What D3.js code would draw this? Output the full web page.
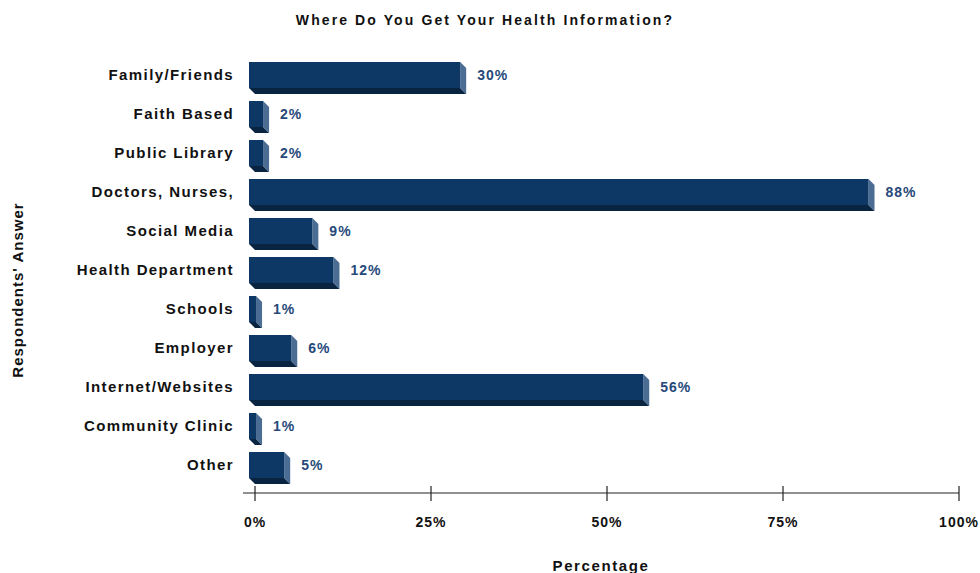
<!DOCTYPE html>
<html>
<head>
<meta charset="utf-8">
<script src="https://cdn.jsdelivr.net/npm/d3@7/dist/d3.min.js"></script>
<style>
  html, body { margin: 0; padding: 0; background: #fff; }
  svg { display: block; }
  text { font-family: "Liberation Sans", Arial, sans-serif; font-weight: bold; }
</style>
</head>
<body>
<svg id="chart" width="980" height="573"></svg>
<script>
// Survey answers and share of respondents (%)
const categories = [
  "Family/Friends", "Faith Based", "Public Library", "Doctors, Nurses,",
  "Social Media", "Health Department", "Schools", "Employer",
  "Internet/Websites", "Community Clinic", "Other"
];
const percentages = [30, 2, 2, 88, 9, 12, 1, 6, 56, 1, 5];
const tickValues = [0, 25, 50, 75, 100];
const tickLabels = ["0%", "25%", "50%", "75%", "100%"];

const svg = d3.select("#chart");
const depth = 6;

const x = d3.scaleLinear().domain([0, 100]).range([255, 959]);
const y = d3.scaleBand().domain(categories).range([55.5, 484.5]).padding(0);
const faceH = 26;

const colFront = "#0d3865";
const colSide = "#4b6d93";
const colBottom = "#082440";

// Title
svg.append("text")
  .attr("x", 485).attr("y", 25)
  .attr("text-anchor", "middle")
  .attr("font-size", 14)
  .attr("letter-spacing", 2.1)
  .attr("fill", "#111")
  .text("Where Do You Get Your Health Information?");

// Bars: front face shifted up-left, side and bottom faces reach the value
const bars = svg.append("g").selectAll("g")
  .data(categories.map((c, i) => ({ c, v: percentages[i] })))
  .join("g");

bars.each(function(d) {
  const g = d3.select(this);
  const x0 = x(0) - depth, x1 = x(d.v) - depth;
  const yt = y(d.c) + (y.bandwidth() - faceH) / 2, yb = yt + faceH;
  // bottom face
  g.append("path")
    .attr("d", `M${x0},${yb} L${x1},${yb} L${x1 + depth},${yb + depth} L${x0 + depth},${yb + depth} Z`)
    .attr("fill", colBottom);
  // side face
  g.append("path")
    .attr("d", `M${x1},${yt} L${x1 + depth},${yt + depth} L${x1 + depth},${yb + depth} L${x1},${yb} Z`)
    .attr("fill", colSide);
  // front face
  g.append("rect")
    .attr("x", x0).attr("y", yt)
    .attr("width", Math.max(0, x1 - x0)).attr("height", faceH)
    .attr("fill", colFront);
  // value label
  g.append("text")
    .attr("x", x(d.v) + 11)
    .attr("y", yt + faceH / 2)
    .attr("dy", "0.35em")
    .attr("font-size", 14)
    .attr("letter-spacing", 1.0)
    .attr("fill", "#26497a")
    .text(d.v + "%");
});

// Category labels
svg.append("g").selectAll("text")
  .data(categories)
  .join("text")
  .attr("x", 234)
  .attr("y", d => y(d) + y.bandwidth() / 2)
  .attr("dy", "0.35em")
  .attr("text-anchor", "end")
  .attr("font-size", 15)
  .attr("letter-spacing", 1.4)
  .attr("fill", "#111")
  .text(d => d);

// X axis
const axisY = 493;
const axis = svg.append("g");
axis.append("line")
  .attr("x1", 243).attr("x2", x(100))
  .attr("y1", axisY).attr("y2", axisY)
  .attr("stroke", "#222").attr("stroke-width", 1.2);
axis.selectAll("line.tick")
  .data(tickValues)
  .join("line")
  .attr("class", "tick")
  .attr("x1", d => x(d)).attr("x2", d => x(d))
  .attr("y1", axisY - 7).attr("y2", axisY + 8)
  .attr("stroke", "#222").attr("stroke-width", 1.2);
axis.selectAll("text")
  .data(tickValues)
  .join("text")
  .attr("x", d => x(d))
  .attr("y", 527)
  .attr("text-anchor", "middle")
  .attr("font-size", 14)
  .attr("letter-spacing", 1.0)
  .attr("fill", "#111")
  .text((d, i) => tickLabels[i]);

// Axis titles
svg.append("text")
  .attr("x", 601).attr("y", 571)
  .attr("text-anchor", "middle")
  .attr("font-size", 15)
  .attr("letter-spacing", 1.6)
  .attr("fill", "#111")
  .text("Percentage");

svg.append("text")
  .attr("transform", "translate(23,290) rotate(-90)")
  .attr("text-anchor", "middle")
  .attr("font-size", 15)
  .attr("letter-spacing", 1.0)
  .attr("fill", "#111")
  .text("Respondents' Answer");
</script>
</body>
</html>
